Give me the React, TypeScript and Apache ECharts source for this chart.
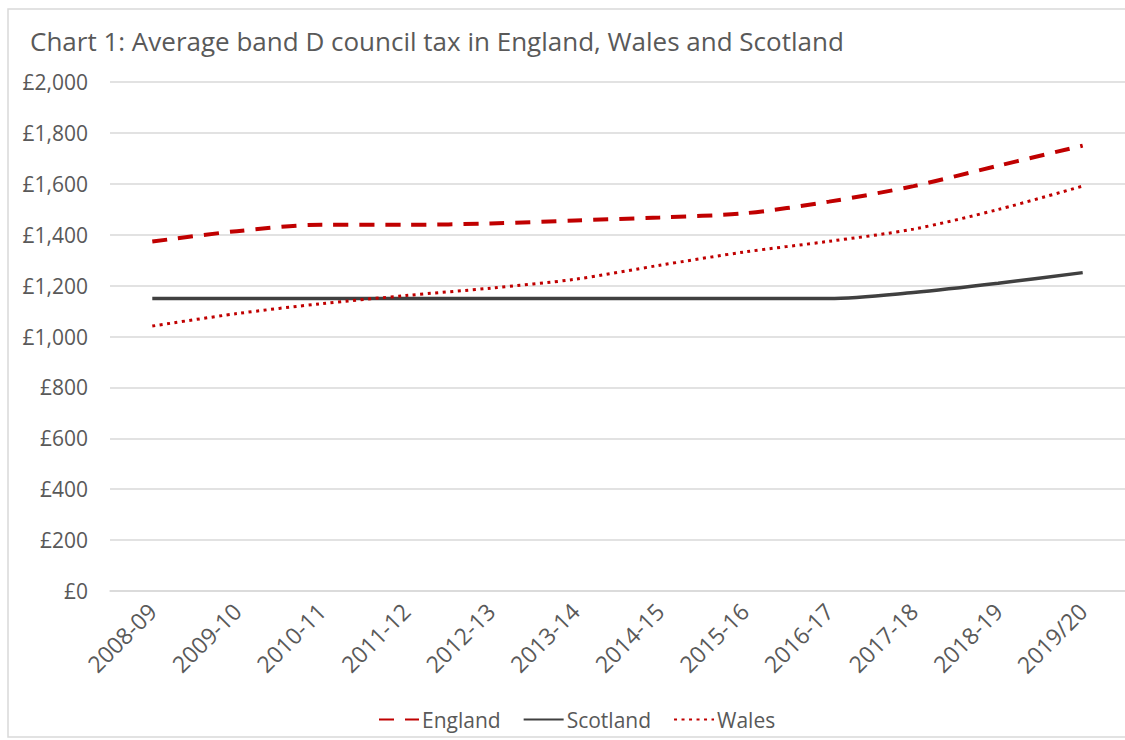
import React, { useEffect, useRef } from "react";
import * as echarts from "echarts";

const years = ["2008-09", "2009-10", "2010-11", "2011-12", "2012-13", "2013-14", "2014-15", "2015-16", "2016-17", "2017-18", "2018-19", "2019/20"];
const england = [1373, 1414, 1439, 1439, 1444, 1456, 1468, 1484, 1530, 1591, 1671, 1750];
const scotland = [1149, 1149, 1149, 1149, 1149, 1149, 1149, 1149, 1149, 1173, 1209, 1251];
const wales = [1041, 1090, 1129, 1161, 1190, 1225, 1280, 1332, 1374, 1422, 1499, 1591];
const titleText = "Chart 1: Average band D council tax in England, Wales and Scotland";

const FONT = "'Open Sans', sans-serif";
const GREY = "#595959";
const RED = "#C00000";

export default function App() {
  const ref = useRef<HTMLDivElement>(null);
  useEffect(() => {
    if (!ref.current) return;
    const chart = echarts.init(ref.current, null, { renderer: "svg" });
    chart.setOption({
      animation: false,
      backgroundColor: "#ffffff",
      textStyle: { fontFamily: FONT },
      graphic: [
        {
          type: "rect",
          shape: { x: 8, y: 9, width: 1140, height: 728 },
          style: { fill: "none", stroke: "#d9d9d9", lineWidth: 1.5 },
          silent: true,
        },
      ],
      title: {
        text: titleText,
        left: 25,
        top: 23,
        textStyle: { fontFamily: FONT, fontSize: 26, fontWeight: "normal", color: GREY },
      },
      legend: {
        left: 373,
        top: 704,
        itemWidth: 40,
        itemHeight: 14,
        itemGap: 22,
        itemStyle: { opacity: 0 },
        textStyle: { fontFamily: FONT, fontSize: 21, color: GREY, padding: [0, 0, 0, -2] },
        data: ["England", "Scotland", "Wales"],
      },
      grid: { left: 110, top: 82, width: 1018, height: 509 },
      xAxis: {
        type: "category",
        data: years,
        boundaryGap: true,
        axisLine: { lineStyle: { color: "#d9d9d9", width: 1.5 } },
        axisTick: { show: false },
        axisLabel: { rotate: 45, margin: 16, fontFamily: FONT, fontSize: 23, color: GREY },
      },
      yAxis: {
        type: "value",
        min: 0,
        max: 2000,
        interval: 200,
        axisLine: { show: false },
        axisTick: { show: false },
        splitLine: { lineStyle: { color: "#d9d9d9", width: 1.5 } },
        axisLabel: {
          margin: 22,
          fontFamily: FONT,
          fontSize: 21,
          color: GREY,
          formatter: (v: number) => "£" + v.toLocaleString("en-GB"),
        },
      },
      series: [
        {
          name: "England",
          type: "line",
          data: england,
          smooth: 0.3,
          symbol: "none",
          itemStyle: { color: RED },
          lineStyle: { color: RED, width: 4, type: [15, 11] },
        },
        {
          name: "Scotland",
          type: "line",
          data: scotland,
          smooth: 0.3,
          symbol: "none",
          itemStyle: { color: "#404040" },
          lineStyle: { color: "#404040", width: 3.5 },
        },
        {
          name: "Wales",
          type: "line",
          data: wales,
          smooth: 0.3,
          symbol: "none",
          itemStyle: { color: RED },
          lineStyle: { color: RED, width: 3, type: [3, 4.5] },
        },
      ],
    });
    return () => chart.dispose();
  }, []);
  return <div ref={ref} style={{ position: "absolute", left: 0, top: 0, width: 1125, height: 740 }} />;
}
